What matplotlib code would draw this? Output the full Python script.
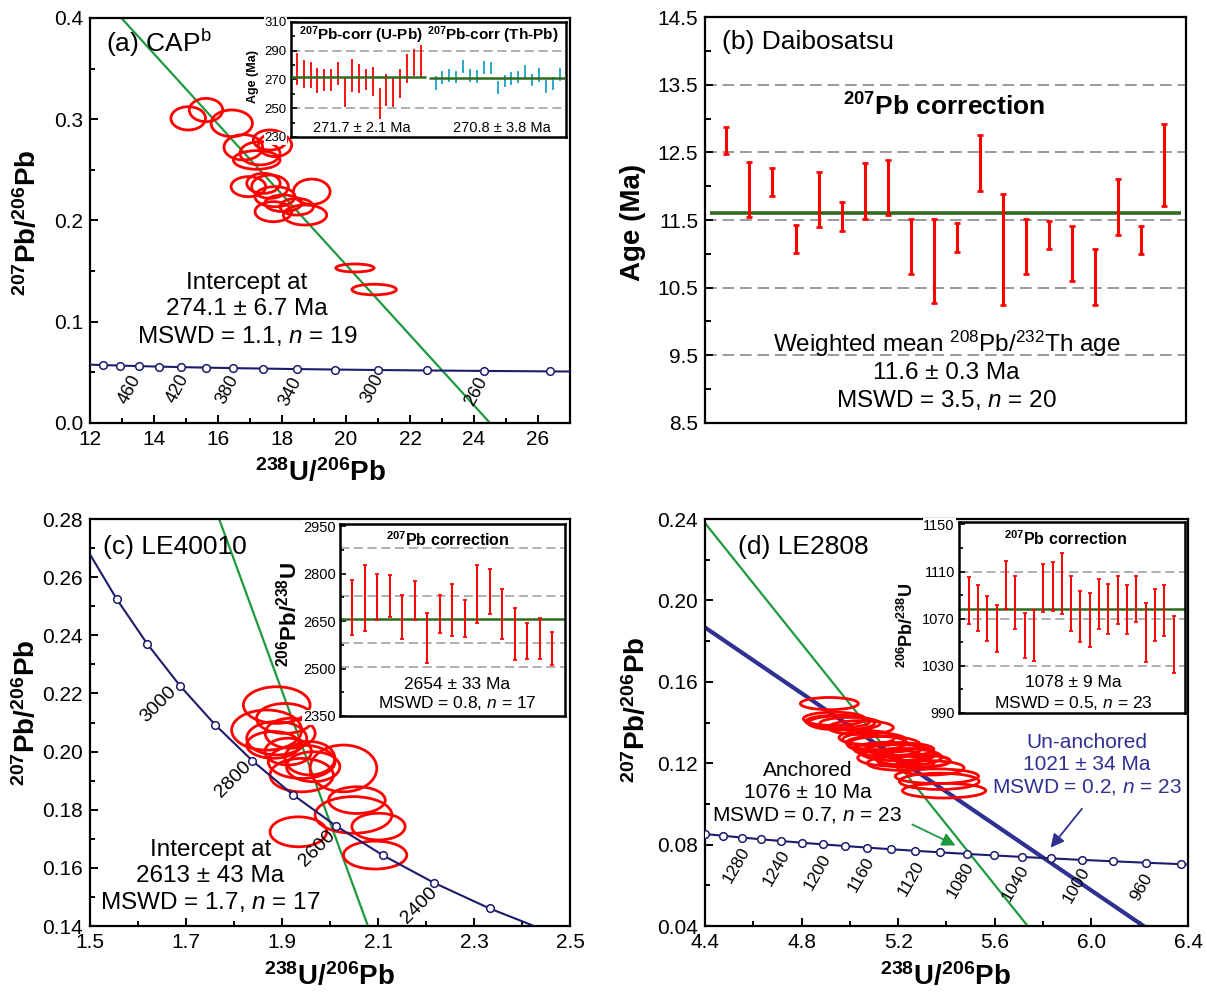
import numpy as np
import matplotlib
matplotlib.use("Agg")
import matplotlib.pyplot as plt
from matplotlib.patches import Ellipse
from matplotlib.ticker import FormatStrFormatter

plt.rcParams["font.family"] = ["Liberation Sans", "DejaVu Sans"]
plt.rcParams["mathtext.fontset"] = "custom"
plt.rcParams["mathtext.rm"] = "Liberation Sans"
plt.rcParams["mathtext.it"] = "Liberation Sans:italic"
plt.rcParams["mathtext.bf"] = "Liberation Sans:bold"
plt.rcParams["axes.linewidth"] = 1.6

RED = "#ff0000"
GREEN = "#1d9a3e"
DKGREEN = "#2f6a1f"
NAVY = "#1c1c6b"
BLUE = "#2e3192"
CYAN = "#19a2c9"
GRID = "#9a9a9a"

# ---------------- (a) CAP ----------------
# concordia (520 ... 220 Ma, markers every 20 Ma)
a_curve_x = [11.904, 12.399, 12.936, 13.520, 14.157, 14.854, 15.621, 16.469,
             17.411, 18.465, 19.649, 20.992, 22.527, 24.297, 26.363, 28.805]
a_curve_y = [0.05774, 0.05722, 0.05670, 0.05619, 0.05569, 0.05519, 0.05470, 0.05421,
             0.05374, 0.05326, 0.05280, 0.05233, 0.05188, 0.05143, 0.05098, 0.05054]
a_lab_text = ["460", "420", "380", "340", "300", "260"]
a_lab_x = [13.25, 14.75, 16.30, 18.27, 20.84, 24.07]
a_lab_y = [0.0328, 0.0344, 0.0328, 0.0311, 0.0344, 0.0311]
a_fit_x = [12.98, 24.50]
a_fit_y = [0.40, 0.00]
a_ell_x = [15.07, 15.625, 16.43, 16.79, 17.31, 17.21, 17.625, 17.78,
           16.95, 17.42, 17.625, 18.93, 17.78, 18.04, 17.73, 18.46, 18.72,
           20.28, 20.88]
a_ell_y = [0.3009, 0.3091, 0.2960, 0.2723, 0.2664, 0.2598, 0.2795, 0.2746,
           0.2334, 0.2367, 0.2334, 0.2284, 0.2235, 0.2170, 0.2087, 0.2136, 0.2054,
           0.1531, 0.1318]
a_ell_w = [1.083, 1.042, 1.292, 1.208, 1.250, 1.458, 1.042, 1.042,
           1.083, 1.042, 1.146, 1.146, 1.250, 1.146, 1.146, 1.042, 1.354,
           1.195, 1.386]
a_ell_h = [0.0230, 0.0230, 0.0263, 0.0250, 0.0230, 0.0184, 0.0198, 0.0230,
           0.0198, 0.0198, 0.0230, 0.0250, 0.0198, 0.0165, 0.0198, 0.0165, 0.0198,
           0.0079, 0.0105]
# inset: 207Pb-corrected ages
a_up_hi = [287.7, 282.7, 281.4, 277.5, 276.8, 276.8, 281.6, 270.7, 283.6, 279.8,
           276.4, 278.2, 263.2, 273.0, 270.7, 276.8, 287.0, 290.5, 293.4]
a_up_lo = [266.8, 265.0, 264.5, 261.0, 262.7, 262.7, 266.8, 251.8, 262.0, 261.6,
           263.6, 259.5, 243.4, 252.5, 251.8, 257.7, 268.4, 273.0, 272.3]
a_th_hi = [271.4, 275.0, 276.6, 275.5, 283.0, 276.8, 276.1, 282.3, 281.6, 268.0,
           272.7, 274.3, 275.5, 279.5, 273.2, 277.0, 269.1, 270.9, 277.0]
a_th_lo = [263.6, 267.5, 269.3, 268.0, 275.5, 269.3, 268.6, 274.8, 274.3, 260.5,
           265.7, 266.8, 268.0, 271.8, 265.9, 269.3, 261.4, 263.6, 269.8]
a_up_mean = 271.7
a_th_mean = 270.8

# ---------------- (b) Daibosatsu ----------------
b_hi = [12.88, 12.35, 12.27, 11.42, 12.21, 11.76, 12.34, 12.39, 11.52, 11.51,
        11.45, 12.75, 11.88, 11.52, 11.49, 11.41, 11.07, 12.10, 11.41, 12.92]
b_lo = [12.47, 11.54, 11.86, 11.01, 11.39, 11.34, 11.52, 11.57, 10.70, 10.28,
        11.03, 11.93, 10.25, 10.70, 11.07, 10.60, 10.25, 11.28, 11.00, 11.70]
b_mean = 11.6

# ---------------- (c) LE40010 ----------------
# concordia (3300 ... 2200 Ma, markers every 100 Ma)
c_curve_x = [1.4959, 1.5557, 1.6194, 1.6874, 1.7603, 1.8384, 1.9224, 2.0129,
             2.1108, 2.2170, 2.3325, 2.4586]
c_curve_y = [0.26896, 0.25242, 0.23701, 0.22266, 0.20928, 0.19683, 0.18520, 0.17437,
             0.16426, 0.15483, 0.14604, 0.13782]
c_lab_text = ["3000", "2800", "2600", "2400"]
c_lab_x = [1.643, 1.799, 1.974, 2.185]
c_lab_y = [0.2161, 0.1903, 0.1667, 0.1472]
c_fit_x = [1.769, 2.079]
c_fit_y = [0.28, 0.14]
c_ell_x = [1.889, 1.868, 1.889, 1.917, 1.882, 1.941, 1.958, 1.941, 1.965,
           2.028, 2.056, 2.049, 2.101, 1.934, 2.094, 1.906, 1.913]
c_ell_y = [0.2160, 0.2074, 0.2046, 0.2063, 0.2023, 0.1965, 0.1977, 0.1919, 0.1948,
           0.1942, 0.1833, 0.1782, 0.1742, 0.1724, 0.1644, 0.2114, 0.2000]
c_ell_w = [0.139, 0.146, 0.125, 0.104, 0.111, 0.139, 0.104, 0.132, 0.111,
           0.139, 0.118, 0.160, 0.111, 0.118, 0.132, 0.118, 0.097]
c_ell_h = [0.0126, 0.0138, 0.0115, 0.0103, 0.0092, 0.0115, 0.0115, 0.0115, 0.0103,
           0.0161, 0.0092, 0.0126, 0.0092, 0.0103, 0.0096, 0.0103, 0.0092]
c_hi = [2781, 2828, 2800, 2797, 2734, 2778, 2676, 2732, 2768, 2716, 2828, 2816,
        2752, 2692, 2643, 2660, 2615]
c_lo = [2605, 2618, 2653, 2662, 2592, 2655, 2519, 2611, 2603, 2601, 2643, 2674,
        2594, 2526, 2529, 2529, 2510]
c_mean = 2657

# ---------------- (d) LE2808 ----------------
# concordia (1340 ... 920 Ma, markers every 20 Ma)
d_curve_x = [4.3280, 4.4007, 4.4756, 4.5528, 4.6325, 4.7147, 4.7997, 4.8875, 4.9783,
             5.0723, 5.1695, 5.2702, 5.3745, 5.4829, 5.5953, 5.7119, 5.8332, 5.9593,
             6.0906, 6.2274, 6.3700, 6.5190]
d_curve_y = [0.08608, 0.08520, 0.08432, 0.08346, 0.08261, 0.08177, 0.08094, 0.08012,
             0.07931, 0.07852, 0.07773, 0.07695, 0.07619, 0.07543, 0.07468, 0.07395,
             0.07322, 0.07250, 0.07179, 0.07109, 0.07040, 0.06972]
d_lab_text = ["1280", "1240", "1200", "1160", "1120", "1080", "1040", "1000", "960"]
d_lab_x = [4.528, 4.696, 4.867, 5.048, 5.253, 5.456, 5.685, 5.936, 6.208]
d_lab_y = [0.0700, 0.0684, 0.0667, 0.0651, 0.0634, 0.0626, 0.0610, 0.0602, 0.0593]
d_anch_x = [4.40, 5.736]
d_anch_y = [0.238, 0.040]
d_free_x = [4.40, 6.216]
d_free_y = [0.1867, 0.040]
d_ell_x = [4.915, 4.935, 4.950, 4.965, 5.045, 5.000, 5.070, 5.100, 5.140, 5.155, 5.195,
           5.210, 5.170, 5.210, 5.265, 5.250, 5.305, 5.240, 5.335, 5.360, 5.370, 5.390,
           5.110]
d_ell_y = [0.1493, 0.1418, 0.1405, 0.1398, 0.1375, 0.1395, 0.1326, 0.1317, 0.1292, 0.1268,
           0.1252, 0.1268, 0.1226, 0.1200, 0.1210, 0.1243, 0.1212, 0.1230, 0.1177, 0.1136,
           0.1111, 0.1065, 0.1300]
d_ell_w = [0.240, 0.255, 0.265, 0.275, 0.270, 0.250, 0.230, 0.260, 0.300, 0.275, 0.300,
           0.275, 0.275, 0.275, 0.300, 0.210, 0.220, 0.280, 0.275, 0.345, 0.330, 0.345,
           0.250]
d_ell_h = [0.0060, 0.0066, 0.0062, 0.0070, 0.0068, 0.0060, 0.0068, 0.0064, 0.0080, 0.0070,
           0.0080, 0.0064, 0.0080, 0.0070, 0.0064, 0.0058, 0.0058, 0.0080, 0.0070, 0.0072,
           0.0080, 0.0072, 0.0066]
d_hi = [1105.5, 1098.4, 1089.1, 1081.8, 1118.5, 1105.8, 1074.7, 1077.5, 1116.8, 1118.2,
        1125.5, 1105.8, 1093.9, 1091.9, 1103.8, 1099.3, 1106.6, 1098.7, 1106.6, 1083.7,
        1095.0, 1098.7, 1072.1]
d_lo = [1065.9, 1059.7, 1051.2, 1041.9, 1078.6, 1061.1, 1036.6, 1034.3, 1075.3, 1076.7,
        1073.8, 1059.4, 1049.8, 1046.2, 1061.1, 1056.6, 1065.6, 1057.2, 1067.3, 1032.9,
        1051.2, 1055.2, 1023.6]
d_mean = 1078


def frame(ax, xlim, ylim, xmaj, xmin, ymaj, ymin, xfmt, yfmt):
    ax.set_xlim(xlim)
    ax.set_ylim(ylim)
    ax.set_xticks(xmaj)
    ax.set_xticks(xmin, minor=True)
    ax.set_yticks(ymaj)
    ax.set_yticks(ymin, minor=True)
    ax.xaxis.set_major_formatter(FormatStrFormatter(xfmt))
    ax.yaxis.set_major_formatter(FormatStrFormatter(yfmt))
    ax.tick_params(which="both", direction="in", top=False, right=False, width=1.4)
    ax.tick_params(which="major", length=6, labelsize=15, pad=5)
    ax.tick_params(which="minor", length=3.5)


def ellipses(ax, xs, ys, ws, hs):
    for x, y, w, h in zip(xs, ys, ws, hs):
        ax.add_patch(Ellipse((x, y), w, h, fill=False, edgecolor=RED, lw=2.0, zorder=3))


def concordia(ax, xs, ys):
    ax.plot(xs, ys, color=NAVY, lw=1.5, zorder=4, marker="o", markersize=5.5,
            markerfacecolor="white", markeredgecolor=NAVY, markeredgewidth=1.1,
            markevery=slice(1, -1))


def bars(ax, pos, lo, hi, color, lw, cap):
    lo = np.asarray(lo, float)
    hi = np.asarray(hi, float)
    ax.errorbar(pos, (lo + hi) / 2, yerr=(hi - lo) / 2, fmt="none", ecolor=color,
                elinewidth=lw, capsize=cap, capthick=lw * 0.9, zorder=3)


def inset_frame(ax, ylim, ymaj, ymin, size):
    ax.set_ylim(ylim)
    ax.set_xticks([])
    ax.set_yticks(ymaj)
    ax.set_yticks(ymin, minor=True)
    ax.tick_params(axis="y", which="both", direction="in", right=False, width=1.2,
                   labelsize=size, pad=3)
    ax.tick_params(axis="y", which="major", length=4)
    ax.tick_params(axis="y", which="minor", length=3)
    for s in ax.spines.values():
        s.set_linewidth(1.8)
    for lab in ax.get_yticklabels():
        lab.set_bbox(dict(facecolor="white", edgecolor="none", pad=0.5))


def dashes(ax, vals, lw=1.1):
    for v in vals:
        ax.axhline(v, color=GRID, ls=(0, (6, 3)), lw=lw, zorder=1)


YLAB = r"$^{\mathbf{207}}$Pb/$^{\mathbf{206}}$Pb"
XLAB = r"$^{\mathbf{238}}$U/$^{\mathbf{206}}$Pb"
INLAB = r"$^{\mathbf{206}}$Pb/$^{\mathbf{238}}$U"
TXT = 17.5

fig = plt.figure(figsize=(12.07, 9.92), dpi=100)

# ======================= (a) =======================
ax = fig.add_axes([0.07457, 0.57359, 0.39768, 0.40827])
frame(ax, (12, 27), (0, 0.4), np.arange(12, 27, 2), np.arange(13, 28, 1),
      np.arange(0, 0.41, 0.1), np.arange(0.05, 0.4, 0.1), "%d", "%.1f")
concordia(ax, a_curve_x, a_curve_y)
ax.plot(a_fit_x, a_fit_y, color=GREEN, lw=1.6, zorder=2)
ellipses(ax, a_ell_x, a_ell_y, a_ell_w, a_ell_h)
for t, x, y in zip(a_lab_text, a_lab_x, a_lab_y):
    ax.text(x, y, t, rotation=62, fontsize=13, ha="center", va="center")
ax.text(0.034, 0.9375, r"(a) CAP$^{\rm b}$", transform=ax.transAxes, fontsize=19,
        va="center")
ax.text(0.3267, 0.279, "Intercept at\n274.1 ± 6.7 Ma\nMSWD = 1.1, $n$ = 19",
        transform=ax.transAxes, fontsize=TXT, ha="center", va="center")
ax.set_ylabel(YLAB, fontsize=20, fontweight="bold")
ax.yaxis.set_label_coords(-0.100, 0.493)
ax.set_xlabel(XLAB, fontsize=20, fontweight="bold")
ax.xaxis.set_label_coords(0.48, -0.088)

ia = fig.add_axes([0.24109, 0.86190, 0.22784, 0.11593])
ia.set_xlim(0.17, 40.0)
inset_frame(ia, (230, 310), [230, 250, 270, 290, 310], [240, 260, 280, 300], 9.5)
dashes(ia, [250, 290])
bars(ia, np.arange(1, 20), a_up_lo, a_up_hi, RED, 1.3, 0.8)
bars(ia, np.arange(21, 40) + 0.1, a_th_lo, a_th_hi, CYAN, 1.3, 0.8)
ia.hlines(a_up_mean, 0.17, 19.7, color=DKGREEN, lw=1.8, zorder=4)
ia.hlines(a_th_mean, 20.2, 40.0, color=DKGREEN, lw=1.8, zorder=4)
ia.text(0.2527, 0.887, r"$^{\mathbf{207}}$Pb-corr (U-Pb)", transform=ia.transAxes,
        fontsize=11, fontweight="bold", ha="center", va="center")
ia.text(0.7327, 0.887, r"$^{\mathbf{207}}$Pb-corr (Th-Pb)", transform=ia.transAxes,
        fontsize=11, fontweight="bold", ha="center", va="center")
ia.text(0.2571, 0.0757, "271.7 ± 2.1 Ma", transform=ia.transAxes, fontsize=10.5,
        ha="center", va="center")
ia.text(0.7673, 0.0757, "270.8 ± 3.8 Ma", transform=ia.transAxes, fontsize=10.5,
        ha="center", va="center")
ia.set_ylabel("Age (Ma)", fontsize=9, fontweight="bold")
ia.yaxis.set_label_coords(-0.116, 0.524)

# ======================= (b) =======================
ax = fig.add_axes([0.58409, 0.57359, 0.3985, 0.40927])
ax.set_xlim(0.073, 20.94)
ax.set_ylim(8.5, 14.5)
ax.set_xticks([])
ax.set_yticks(np.arange(8.5, 14.6, 1.0))
ax.set_yticks(np.arange(9.0, 14.5, 1.0), minor=True)
ax.yaxis.set_major_formatter(FormatStrFormatter("%.1f"))
ax.tick_params(axis="y", which="both", direction="in", right=False, width=1.4)
ax.tick_params(axis="y", which="major", length=6, labelsize=15, pad=5)
ax.tick_params(axis="y", which="minor", length=4)
dashes(ax, [9.5, 10.5, 11.5, 12.5, 13.5], lw=1.4)
ax.hlines(b_mean, 0.29, 20.73, color=DKGREEN, lw=2.6, zorder=2)
bars(ax, np.arange(1, 21), b_lo, b_hi, RED, 2.2, 2.2)
ax.text(0.036, 0.939, "(b) Daibosatsu", transform=ax.transAxes, fontsize=19,
        va="center")
ax.text(0.497, 0.779, r"$^{\mathbf{207}}$Pb correction", transform=ax.transAxes,
        fontsize=19, fontweight="bold", ha="center", va="center")
ax.text(0.502, 0.1305,
        "Weighted mean $^{208}$Pb/$^{232}$Th age\n11.6 ± 0.3 Ma\nMSWD = 3.5, $n$ = 20",
        transform=ax.transAxes, fontsize=TXT, ha="center", va="center")
ax.set_ylabel("Age (Ma)", fontsize=20, fontweight="bold")
ax.yaxis.set_label_coords(-0.123, 0.493)

# ======================= (c) =======================
ax = fig.add_axes([0.07457, 0.06653, 0.39768, 0.41028])
frame(ax, (1.5, 2.5), (0.14, 0.28), np.arange(1.5, 2.51, 0.2), np.arange(1.6, 2.5, 0.2),
      np.arange(0.14, 0.281, 0.02), np.arange(0.15, 0.28, 0.02), "%.1f", "%.2f")
concordia(ax, c_curve_x, c_curve_y)
ax.plot(c_fit_x, c_fit_y, color=GREEN, lw=1.6, zorder=2)
ellipses(ax, c_ell_x, c_ell_y, c_ell_w, c_ell_h)
for t, x, y in zip(c_lab_text, c_lab_x, c_lab_y):
    ax.text(x, y, t, rotation=45, fontsize=14, ha="center", va="center")
ax.text(0.0277, 0.932, "(c) LE40010", transform=ax.transAxes, fontsize=19, va="center")
ax.text(0.251, 0.121, "Intercept at\n2613 ± 43 Ma\nMSWD = 1.7, $n$ = 17",
        transform=ax.transAxes, fontsize=TXT, ha="center", va="center")
ax.set_ylabel(YLAB, fontsize=20, fontweight="bold")
ax.yaxis.set_label_coords(-0.102, 0.523)
ax.set_xlabel(XLAB, fontsize=20, fontweight="bold")
ax.xaxis.set_label_coords(0.498, -0.090)

ic = fig.add_axes([0.28169, 0.27823, 0.18641, 0.19355])
ic.set_xlim(0.02, 18.04)
inset_frame(ic, (2350, 2957), [2350, 2500, 2650, 2800, 2950],
            [2425, 2575, 2725, 2875], 10.5)
dashes(ic, [2505, 2580, 2730, 2880])
ic.axhline(c_mean, color=DKGREEN, lw=1.8, zorder=2)
bars(ic, np.arange(1, 18), c_lo, c_hi, RED, 1.4, 1.2)
ic.text(0.481, 0.92, r"$^{\mathbf{207}}$Pb correction", transform=ic.transAxes,
        fontsize=11.5, fontweight="bold", ha="center", va="center")
ic.text(0.521, 0.165, "2654 ± 33 Ma", transform=ic.transAxes, fontsize=12.5,
        ha="center", va="center")
ic.text(0.521, 0.066, "MSWD = 0.8, $n$ = 17", transform=ic.transAxes, fontsize=12.5,
        ha="center", va="center")
ic.set_ylabel(INLAB, fontsize=16, fontweight="bold")
ic.yaxis.set_label_coords(-0.169, 0.526)

# ======================= (d) =======================
ax = fig.add_axes([0.58409, 0.06653, 0.40017, 0.41028])
frame(ax, (4.4, 6.4), (0.04, 0.24), np.arange(4.4, 6.41, 0.4), np.arange(4.6, 6.4, 0.4),
      np.arange(0.04, 0.241, 0.04), np.arange(0.06, 0.24, 0.04), "%.1f", "%.2f")
concordia(ax, d_curve_x, d_curve_y)
ax.plot(d_anch_x, d_anch_y, color=GREEN, lw=1.6, zorder=2)
ax.plot(d_free_x, d_free_y, color=BLUE, lw=3.0, zorder=2)
ellipses(ax, d_ell_x, d_ell_y, d_ell_w, d_ell_h)
for t, x, y in zip(d_lab_text, d_lab_x, d_lab_y):
    ax.text(x, y, t, rotation=60, fontsize=12.5, ha="center", va="center")
ax.text(0.068, 0.932, "(d) LE2808", transform=ax.transAxes, fontsize=19, va="center")
ax.text(4.824, 0.1052, "Anchored\n1076 ± 10 Ma\nMSWD = 0.7, $n$ = 23", fontsize=15,
        ha="center", va="center")
ax.text(5.981, 0.1192, "Un-anchored\n1021 ± 34 Ma\nMSWD = 0.2, $n$ = 23", fontsize=15,
        ha="center", va="center", color=BLUE)
ax.annotate("", xy=(5.448, 0.0790), xytext=(5.248, 0.0905),
            arrowprops=dict(arrowstyle="-|>", color=GREEN, lw=1.3, mutation_scale=20))
ax.annotate("", xy=(5.824, 0.0774), xytext=(5.968, 0.0987),
            arrowprops=dict(arrowstyle="-|>", color=BLUE, lw=1.3, mutation_scale=20))
ax.set_ylabel(YLAB, fontsize=20, fontweight="bold")
ax.yaxis.set_label_coords(-0.112, 0.531)
ax.set_xlabel(XLAB, fontsize=20, fontweight="bold")
ax.xaxis.set_label_coords(0.498, -0.088)

idd = fig.add_axes([0.79453, 0.28125, 0.18724, 0.19254])
idd.set_xlim(-0.04, 24.22)
inset_frame(idd, (990, 1152), [990, 1030, 1070, 1110, 1150],
            [1010, 1050, 1090, 1130], 10.5)
dashes(idd, [1030, 1070, 1110])
idd.axhline(d_mean, color=DKGREEN, lw=1.8, zorder=2)
bars(idd, np.arange(1, 24), d_lo, d_hi, RED, 1.4, 1.2)
idd.text(0.473, 0.911, r"$^{\mathbf{207}}$Pb correction", transform=idd.transAxes,
         fontsize=11.5, fontweight="bold", ha="center", va="center")
idd.text(0.506, 0.159, "1078 ± 9 Ma", transform=idd.transAxes, fontsize=12.5,
         ha="center", va="center")
idd.text(0.506, 0.051, "MSWD = 0.5, $n$ = 23", transform=idd.transAxes, fontsize=12.5,
         ha="center", va="center")
idd.set_ylabel(INLAB, fontsize=13, fontweight="bold")
idd.yaxis.set_label_coords(-0.186, 0.46)

fig.savefig("out.png", dpi=100)
